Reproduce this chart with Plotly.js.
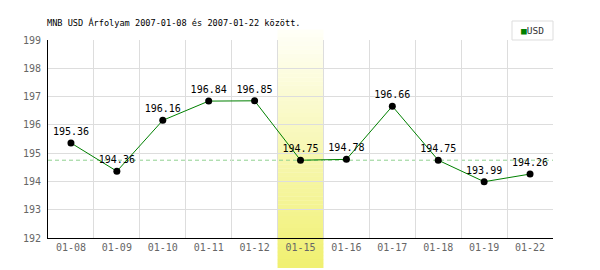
<!DOCTYPE html>
<html><head><meta charset="utf-8">
<script src="https://cdn.plot.ly/plotly-3.0.1.min.js"></script>
<style>body{margin:0;background:#fff}#c{width:600px;height:270px}</style>
</head><body><div id="c"></div>
<script>
const dates = ["01-08","01-09","01-10","01-11","01-12","01-15","01-16","01-17","01-18","01-19","01-22"];
const usd = [195.36,194.36,196.16,196.84,196.85,194.75,194.78,196.66,194.75,193.99,194.26];
const labels = ["195.36","194.36","196.16","196.84","196.85","194.75","194.78","196.66","194.75","193.99","194.26"];
const highlightDate = "01-15";
const seriesName = "USD";
const titleText = "MNB USD Árfolyam 2007-01-08 és 2007-01-22 között.";

const hi = dates.indexOf(highlightDate);
const shapes = [];
const N = 60, yTop = 1.0505, yBot = -0.1515;
for (let i = 0; i < N; i++) {
  const t0 = i / N, t1 = (i + 1) / N, tm = (t0 + t1) / 2;
  const r = Math.round(255 + (240 - 255) * tm);
  const g = Math.round(255 + (240 - 255) * tm);
  const b = Math.round(248 + (112 - 248) * tm);
  shapes.push({type:'rect', xref:'x', yref:'paper', x0:hi-0.5, x1:hi+0.5,
    y0: yTop + (yBot - yTop) * t1, y1: yTop + (yBot - yTop) * t0 + 0.002,
    fillcolor:`rgb(${r},${g},${b})`, line:{width:0}, layer:'between'});
}
shapes.push({type:'line', xref:'paper', yref:'y', x0:0, x1:1, y0:usd[hi], y1:usd[hi],
  line:{color:'#90d090', width:1, dash:'4px,3px'}, layer:'between'});
// legend frame
const plotW = 505, plotH = 198;
shapes.push({type:'rect', xref:'paper', yref:'paper', x0:1-41/plotW, x1:1, y0:1, y1:1+19/plotH,
  line:{color:'#dddddd', width:1}, fillcolor:'rgba(255,255,255,0)', layer:'above'});

const mono = "DejaVu Sans Mono, monospace";
Plotly.newPlot('c', [{
  x: dates, y: usd, type:'scatter', mode:'lines+markers+text',
  text: labels, textposition:'top center', textfont:{family:mono, size:10, color:'#000'},
  line:{color:'#008000', width:1}, marker:{color:'#000', size:7}, name:seriesName,
  showlegend:false, cliponaxis:false, hoverinfo:'none'
}], {
  width:600, height:270, margin:{l:48, r:47, t:40, b:32},
  paper_bgcolor:'#fff', plot_bgcolor:'#fff',
  title:{text:titleText, x:47/600, xanchor:'left', xref:'container', y:1-23/270, yanchor:'middle', yref:'container',
    font:{family:mono, size:8.6, color:'#000'}},
  xaxis:{type:'category', range:[-0.5, dates.length-0.5], tickson:'boundaries', ticks:'',
    showgrid:true, gridcolor:'#dddddd', gridwidth:1, showline:true, linecolor:'#000', linewidth:1,
    tickfont:{family:mono, size:10, color:'#666'}, fixedrange:true, zeroline:false},
  yaxis:{range:[192,199], dtick:1, ticks:'', showgrid:true, gridcolor:'#dddddd', gridwidth:1,
    showline:true, linecolor:'#000', linewidth:1, zeroline:false,
    tickfont:{family:mono, size:10, color:'#666'}, ticklabelstandoff:4},
  shapes: shapes,
  annotations:[{xref:'paper', yref:'paper', x:1-20.5/plotW, y:1+9.5/plotH, xanchor:'center', yanchor:'middle',
    text:'<span style="color:#008000">■</span>' + seriesName, showarrow:false,
    font:{family:mono, size:9.5, color:'#333'}}]
}, {staticPlot:true});
</script></body></html>
